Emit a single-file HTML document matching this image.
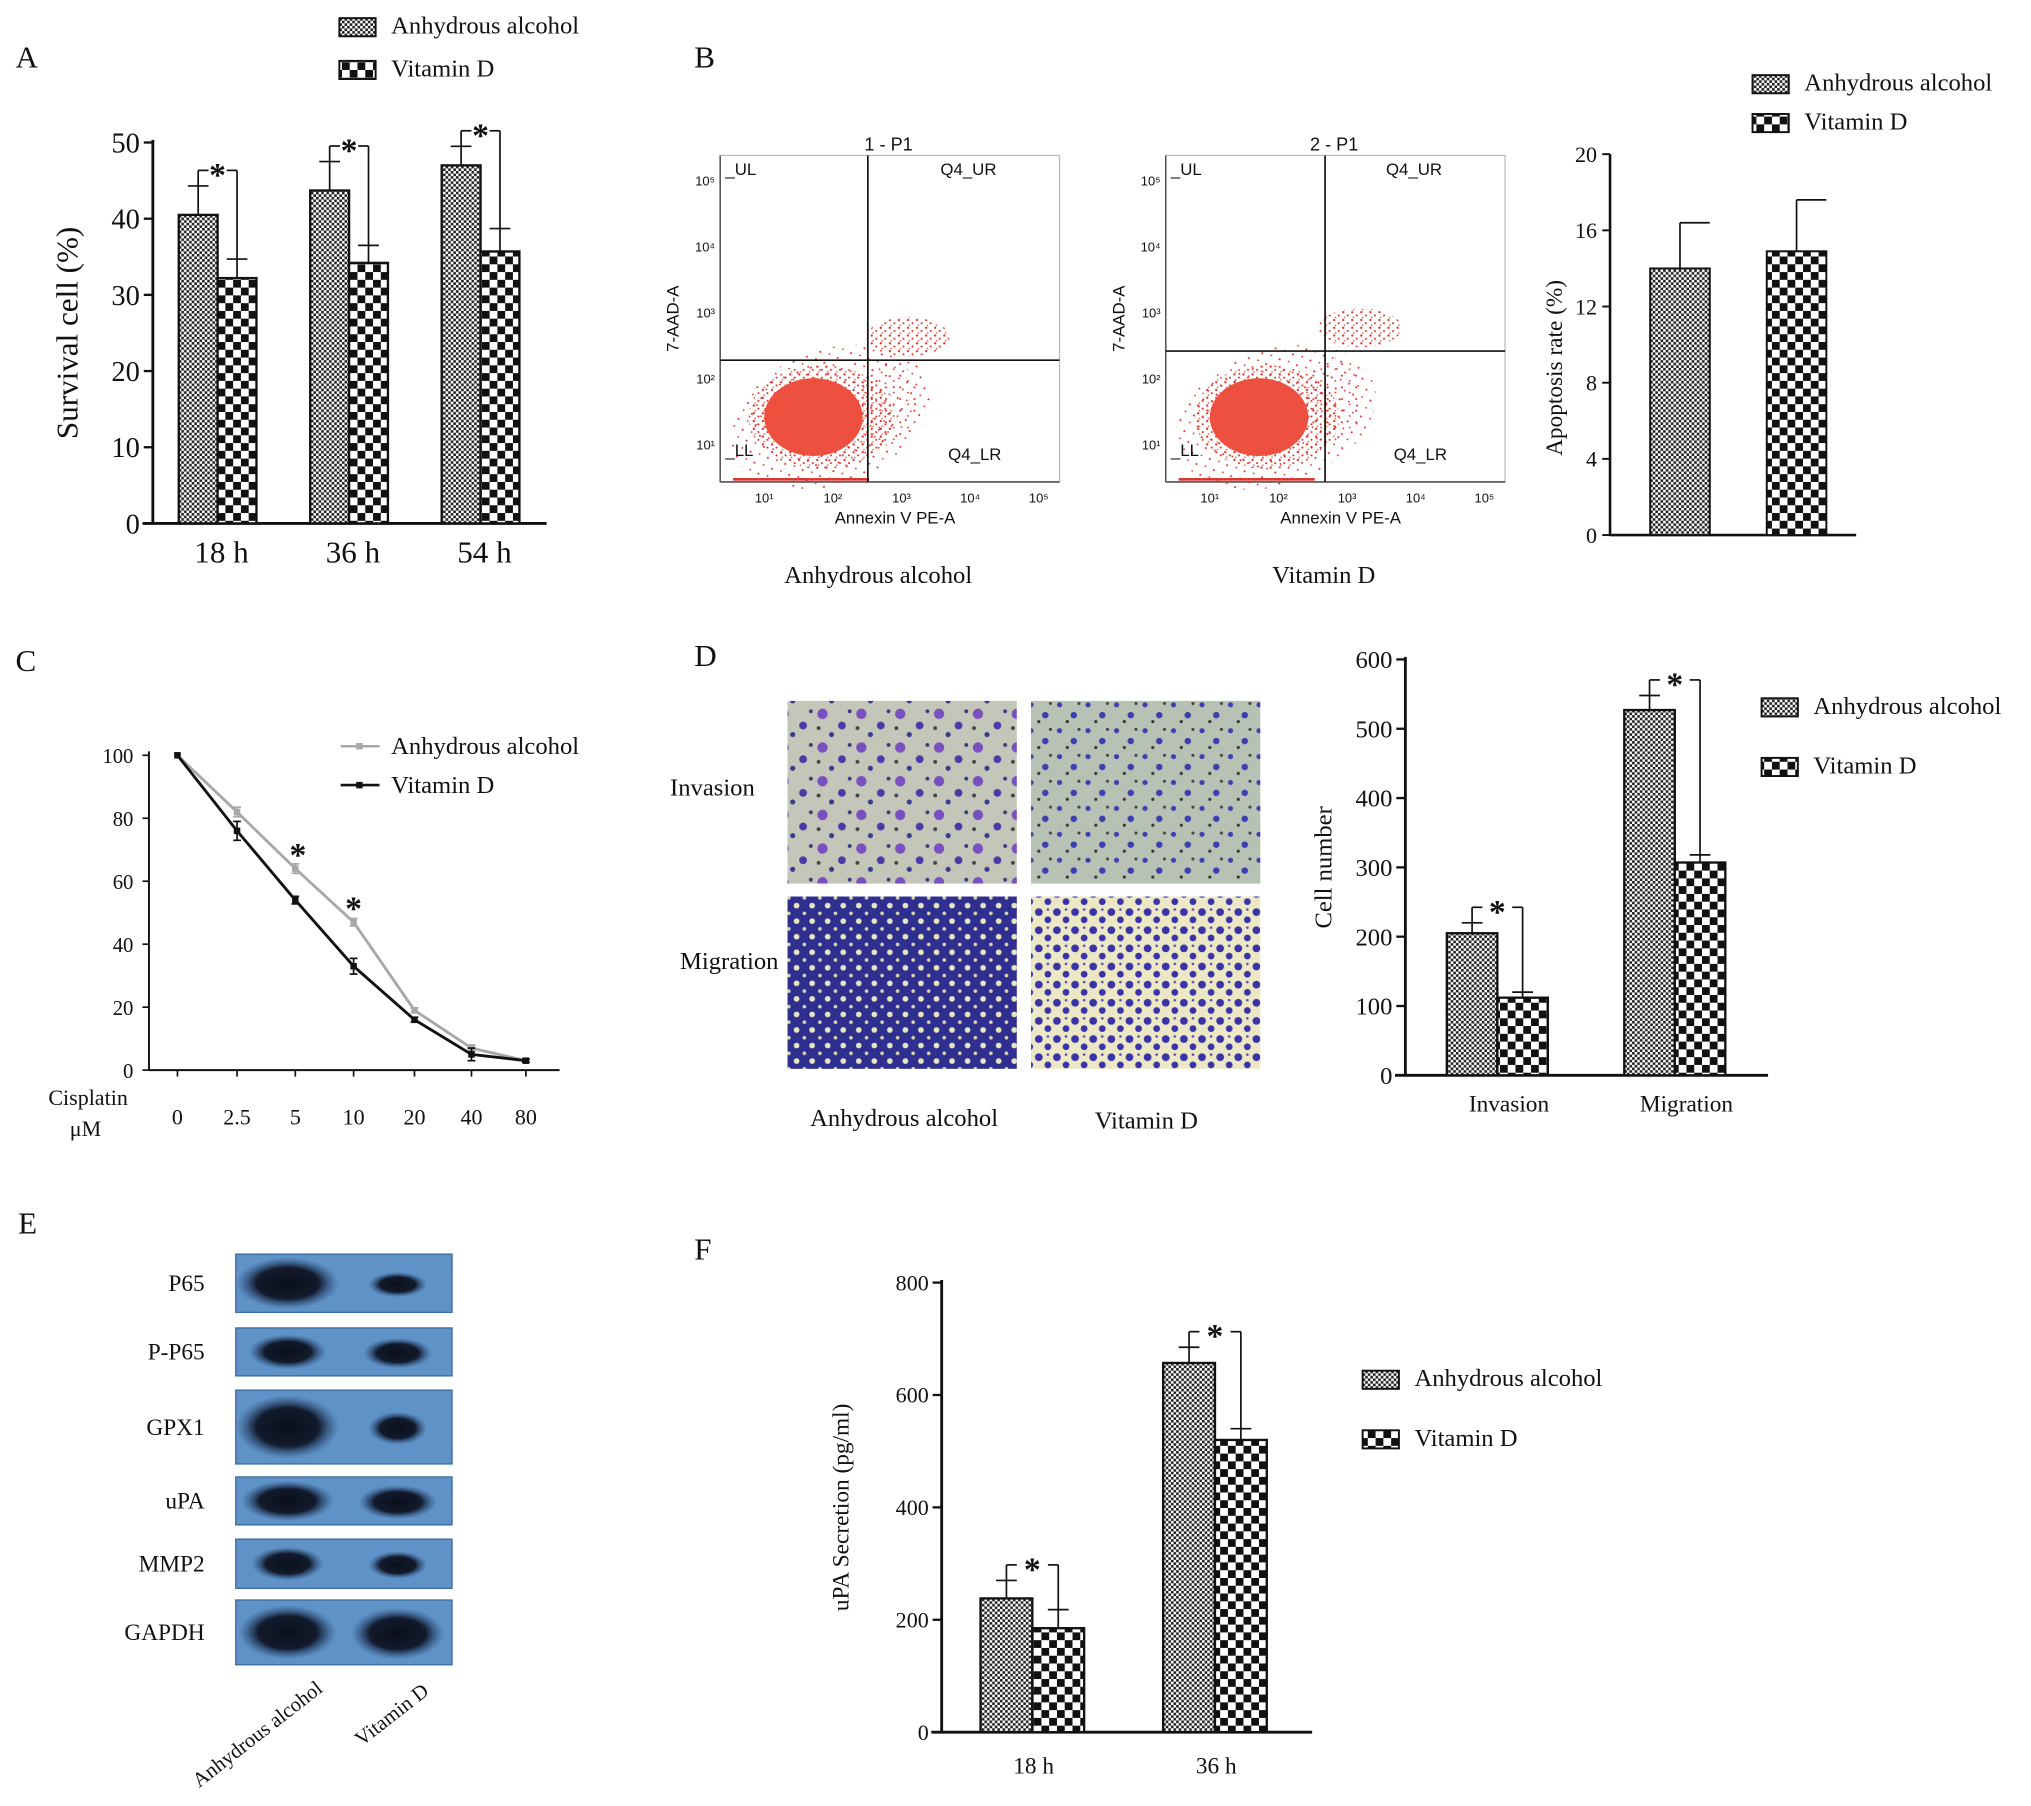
<!DOCTYPE html>
<html><head><meta charset="utf-8"><style>
html,body{margin:0;padding:0;background:#fff}
svg{display:block}
text{font-family:"Liberation Serif",serif;fill:#111}
.s{font-family:"Liberation Sans",sans-serif}
</style></head><body>
<svg id="fig" width="2031" height="1806" viewBox="0 0 1568 1394" preserveAspectRatio="none" xmlns="http://www.w3.org/2000/svg">
<defs>
<pattern id="fine" width="4" height="4" patternUnits="userSpaceOnUse"><rect width="4" height="4" fill="#fff"/><rect width="2" height="2" fill="#222"/><rect x="2" y="2" width="2" height="2" fill="#222"/></pattern>
<pattern id="coarse" width="12" height="12" patternUnits="userSpaceOnUse"><rect width="12" height="12" fill="#fff"/><rect width="6" height="6" fill="#111"/><rect x="6" y="6" width="6" height="6" fill="#111"/></pattern>
<pattern id="dots" width="7" height="6" patternUnits="userSpaceOnUse"><circle cx="1" cy="1" r="0.9" fill="#e0302a"/><circle cx="4.5" cy="3.5" r="0.8" fill="#e0302a"/><circle cx="2" cy="5" r="0.6" fill="#e85040"/></pattern>
<pattern id="dots2" width="11" height="9" patternUnits="userSpaceOnUse"><circle cx="2" cy="2" r="0.8" fill="#e0302a"/><circle cx="8" cy="6" r="0.7" fill="#e0302a"/></pattern>
<pattern id="inv1" width="30" height="26" patternUnits="userSpaceOnUse"><rect width="30" height="26" fill="#c3c6b8"/><circle cx="5" cy="5" r="4" fill="#7a4fc0"/><circle cx="20" cy="14" r="3" fill="#4a3aa8"/><circle cx="12" cy="21" r="2" fill="#3a3a90"/><circle cx="26" cy="3" r="1.5" fill="#3a3a80"/><circle cx="2" cy="16" r="1.5" fill="#444"/></pattern>
<pattern id="inv2" width="22" height="20" patternUnits="userSpaceOnUse"><rect width="22" height="20" fill="#b8c2b4"/><circle cx="4" cy="4" r="2" fill="#3d3fb0"/><circle cx="15" cy="12" r="2.5" fill="#3d3fb0"/><circle cx="10" cy="17" r="1.2" fill="#333"/><circle cx="19" cy="3" r="1.2" fill="#444"/></pattern>
<pattern id="mig1" width="12" height="12" patternUnits="userSpaceOnUse"><rect width="12" height="12" fill="#2e2f8f"/><circle cx="3" cy="3" r="2.2" fill="#e8e6c0"/><circle cx="9" cy="9" r="1.4" fill="#d8d6b0"/></pattern>
<pattern id="mig2" width="14" height="14" patternUnits="userSpaceOnUse"><rect width="14" height="14" fill="#ece8c6"/><circle cx="4" cy="4" r="3" fill="#3a33a8"/><circle cx="11" cy="10" r="2.6" fill="#3a33a8"/><circle cx="11" cy="2" r="1" fill="#5a4ab0"/></pattern>
<radialGradient id="band"><stop offset="0" stop-color="#0a0f1a"/><stop offset="0.6" stop-color="#121a2c"/><stop offset="1" stop-color="#2a4a78" stop-opacity="0"/></radialGradient>
</defs>
<g id="root"></g>
</svg>
<script>
// ---------- Data ----------
const aCats = ["18 h","36 h","54 h"];
const aAlc = [40.5, 43.7, 47.0];
const aAlcErr = [3.8, 3.8, 2.5];
const aVit = [32.2, 34.2, 35.7];
const aVitErr = [2.5, 2.3, 3.0];
const aTicks = [0,10,20,30,40,50];

const bCats = ["Anhydrous alcohol","Vitamin D"];
const bVals = [14.0, 14.9];
const bErr = [2.4, 2.7];
const bTicks = [0,4,8,12,16,20];

const cCats = ["0","2.5","5","10","20","40","80"];
const cAlc = [100, 82, 64, 47, 19, 7, 3];
const cAlcErr = [0, 1.5, 1.5, 1.2, 0.8, 1, 0.5];
const cVit = [100, 76, 54, 33, 16, 5, 3];
const cVitErr = [0, 3, 1.2, 2.5, 0.8, 2, 0.5];
const cTicks = [0,20,40,60,80,100];

const dCats = ["Invasion","Migration"];
const dAlc = [205, 527];
const dAlcErr = [15, 21];
const dVit = [112, 307];
const dVitErr = [8, 11];
const dTicks = [0,100,200,300,400,500,600];

const fCats = ["18 h","36 h"];
const fAlc = [238, 657];
const fAlcErr = [32, 28];
const fVit = [185, 520];
const fVitErr = [33, 20];
const fTicks = [0,200,400,600,800];

const blotRows = ["P65","P-P65","GPX1","uPA","MMP2","GAPDH"];
const blotAlc = [1.0, 0.75, 1.0, 0.9, 0.7, 0.95];
const blotVit = [0.45, 0.7, 0.5, 0.8, 0.6, 0.95];

// ---------- helpers ----------
const NS="http://www.w3.org/2000/svg";
const root=document.getElementById('root');
function el(tag,attrs,parent,txt){const e=document.createElementNS(NS,tag);for(const k in attrs)e.setAttribute(k,attrs[k]);if(txt!==undefined)e.textContent=txt;(parent||root).appendChild(e);return e;}
function grp(name){const g=el('g',{});return g;}
function txt(g,x,y,s,size,anchor,extra){const t=el('text',Object.assign({x:x,y:y,'font-size':size,'text-anchor':anchor||'start'},extra||{}),g,s);return t;}
function line(g,x1,y1,x2,y2,w,c){return el('line',{x1,y1,x2,y2,stroke:c||'#111','stroke-width':w||1.5},g);}

function legend(g,x,y,dy,size,labels){
  const fills=['url(#fine)','url(#coarse)'];
  labels.forEach((l,i)=>{
    const r=el('rect',{x:x,y:y+i*dy-12,width:28,height:14,fill:fills[i],stroke:'#111','stroke-width':1.5},g);
    
    
    const t=txt(g,x+40,y+i*dy,l,size);
    
    
  });
}

function sig(g,x1,top1,x2,top2,ytop){
  line(g,x1-8,top1,x1+8,top1,1.3);
  line(g,x1,top1,x1,ytop,1.3);line(g,x1,ytop,x1+8,ytop,1.3);
  line(g,x2-8,ytop,x2,ytop,1.3);line(g,x2,ytop,x2,top2,1.3);
  line(g,x2-8,top2,x2+8,top2,1.3);
  const s=txt(g,(x1+x2)/2,ytop+12,'*',26,'middle',{'font-weight':'bold'});
  
  
}

function groupChart(o){
  const g=grp(o.name);
  const ys=v=>o.y0-(v-o.tmin)/(o.tmax-o.tmin)*(o.y0-o.y1);
  line(g,o.ax,o.y1-2,o.ax,o.y0,2.2);line(g,o.ax-8,o.y0,o.axEnd,o.y0,2.2);
  o.ticks.forEach(t=>{line(g,o.ax-7,ys(t),o.ax,ys(t),1.8);const tl=txt(g,o.ax-10,ys(t)+o.tsize*0.35,String(t),o.tsize,'end');});
  o.cats.forEach((c,i)=>{
    const x0=o.start+i*o.step;
    [[o.s1,o.e1,'url(#fine)'],[o.s2,o.e2,'url(#coarse)']].forEach((s,j)=>{
      const v=s[0][i],e=s[1][i],bx=x0+j*o.bw;
      const r=el('rect',{x:bx,y:ys(v),width:o.bw,height:o.y0-ys(v),fill:s[2],stroke:'#111','stroke-width':1.8},g);
      
      
      line(g,bx+o.bw/2,ys(v),bx+o.bw/2,ys(v+e),1.3);
    });
    const t1=ys(o.s1[i]+o.e1[i]),t2=ys(o.s2[i]+o.e2[i]);
    sig(g,x0+o.bw/2,t1,x0+1.5*o.bw,t2,Math.min(t1,t2)-o.sigGap);
    const xl=txt(g,x0+o.bw+(o.labOff||0),o.y0+o.lsize+o.lpad,c,o.lsize,'middle');
    
  });
  const yt=txt(g,0,0,o.ytitle,o.ysize,'middle',{transform:`translate(${o.ytx},${(o.y0+o.y1)/2}) rotate(-90)`});
  
  return g;
}

// ---------- Panel labels ----------
[['A',12,52],['B',536,52],['C',12,518],['D',536,514],['E',14,952],['F',536,972]].forEach(p=>{const t=txt(root,p[1],p[2],p[0],24);});

// ---------- Panel A ----------
const gA=groupChart({name:'panel-a-chart',cats:aCats,s1:aAlc,e1:aAlcErr,s2:aVit,e2:aVitErr,ticks:aTicks,tmin:0,tmax:50,
 ax:118,axEnd:422,y0:404,y1:110,start:138,step:101.5,bw:30,sigGap:12,tsize:22,lsize:24,lpad:6,labOff:3,ytitle:'Survival cell (%)',ysize:24,ytx:60});
legend(gA,262,26,33,19,['Anhydrous alcohol','Vitamin D']);

// ---------- Panel B flow plots ----------
function flow(name,x0,vx,hy,title,label,urx){
  const g=grp(name);
  el('rect',{x:x0,y:120,width:262,height:252,fill:'none',stroke:'#bbb','stroke-width':1},g);
  line(g,x0,120,x0,372,1.2,'#555');line(g,x0,372,x0+262,372,1.2,'#555');
  const c=el('ellipse',{cx:x0+85,cy:322,rx:80,ry:52,fill:'url(#dots2)',transform:`rotate(-20 ${x0+85} 322)`},g);
  
  el('ellipse',{cx:x0+78,cy:322,rx:56,ry:40,fill:'url(#dots)'},g);
  el('ellipse',{cx:x0+72,cy:322,rx:38,ry:30,fill:'#ee5040'},g);
  el('ellipse',{cx:x0+130,cy:310,rx:22,ry:34,fill:'url(#dots2)'},g);
  el('ellipse',{cx:x0+urx,cy:hy-18,rx:32,ry:15,fill:'url(#dots)'},g);
  el('rect',{x:x0+10,y:369,width:105,height:2,fill:'#e0302a'},g);
  line(g,vx,120,vx,372,1.3);line(g,x0,hy,x0+262,hy,1.3);
  txt(g,x0+130,116,title,14,'middle',{class:'s'});
  txt(g,x0+4,135,'_UL',13,'start',{class:'s'});txt(g,x0+170,135,'Q4_UR',13,'start',{class:'s'});
  txt(g,x0+4,352,'_LL',13,'start',{class:'s'});txt(g,x0+176,355,'Q4_LR',13,'start',{class:'s'});
  ['10¹','10²','10³','10⁴','10⁵'].forEach((s,i)=>{txt(g,x0+34+i*53,388,s,10,'middle',{class:'s'});txt(g,x0-4,347-i*51,s,10,'end',{class:'s'});});
  txt(g,x0+135,404,'Annexin V PE-A',13,'middle',{class:'s'});
  txt(g,0,0,'7-AAD-A',13,'middle',{class:'s',transform:`translate(${x0-32},246) rotate(-90)`});
  const l=txt(g,x0+122,450,label,19,'middle');
}
flow('flow-plot-alcohol',556,670,278,'1 - P1','Anhydrous alcohol',145);
flow('flow-plot-vitamin-d',900,1023,271,'2 - P1','Vitamin D',150);

// Panel B bar chart
(function(){
  const g=grp('panel-b-chart');
  const y0=413,y1=119,ys=v=>y0-v/20*(y0-y1),ax=1243;
  line(g,ax,y1,ax,y0,2);line(g,ax,y0,1433,y0,2);
  bTicks.forEach(t=>{line(g,ax-6,ys(t),ax,ys(t),1.5);txt(g,ax-10,ys(t)+6,String(t),17,'end');});
  const fills=['url(#fine)','url(#coarse)'];
  bCats.forEach((c,i)=>{
    const bx=1274+i*90;
    const r=el('rect',{x:bx,y:ys(bVals[i]),width:46,height:y0-ys(bVals[i]),fill:fills[i],stroke:'#111','stroke-width':1.5},g);
    
    line(g,bx+23,ys(bVals[i]),bx+23,ys(bVals[i]+bErr[i]),1.3);line(g,bx+23,ys(bVals[i]+bErr[i]),bx+46,ys(bVals[i]+bErr[i]),1.3);
  });
  txt(g,0,0,'Apoptosis rate (%)',18,'middle',{transform:`translate(1206,284) rotate(-90)`});
  legend(g,1353,70,30,19,['Anhydrous alcohol','Vitamin D']);
})();

// ---------- Panel C ----------
(function(){
  const g=grp('panel-c-chart');
  const y0=826,y1=583,ys=v=>y0-v/100*(y0-y1),ax=115;
  const xs=[137,183,228,273,320,364,406];
  const xi=i=>xs[i];
  line(g,ax,y1-3,ax,y0,1.5);line(g,ax,y0,432,y0,1.5);
  cTicks.forEach(t=>{line(g,ax-5,ys(t),ax,ys(t),1.3);txt(g,ax-12,ys(t)+6,String(t),16,'end');});
  cCats.forEach((c,i)=>{line(g,xi(i),y0,xi(i),y0+5,1.3);txt(g,xi(i),y0+42,c,17,'middle');});
  txt(g,68,853,'Cisplatin',17,'middle');txt(g,66,877,'μM',17,'middle');
  [[cAlc,cAlcErr,'#a8a8a8','line-alcohol'],[cVit,cVitErr,'#111','line-vitamin-d']].forEach(s=>{
    const p=el('polyline',{points:s[0].map((v,i)=>xi(i)+','+ys(v)).join(' '),fill:'none',stroke:s[2],'stroke-width':2.2},g);
    
    s[0].forEach((v,i)=>{el('rect',{x:xi(i)-2.5,y:ys(v)-2.5,width:5,height:5,fill:s[2]},g);
      if(s[1][i]>0){line(g,xi(i),ys(v-s[1][i]),xi(i),ys(v+s[1][i]),1.3,s[2]);line(g,xi(i)-3,ys(v+s[1][i]),xi(i)+3,ys(v+s[1][i]),1.3,s[2]);line(g,xi(i)-3,ys(v-s[1][i]),xi(i)+3,ys(v-s[1][i]),1.3,s[2]);}});
  });
  txt(g,xi(2)+2,ys(cAlc[2])-2,'*',26,'middle',{'font-weight':'bold'});
  txt(g,xi(3),ys(cAlc[3])-2,'*',26,'middle',{'font-weight':'bold'});
  line(g,263,576,293,576,2,'#a8a8a8');el('rect',{x:275,y:573.5,width:5,height:5,fill:'#a8a8a8'},g);
  line(g,263,606,293,606,2,'#111');el('rect',{x:275,y:603.5,width:5,height:5,fill:'#111'},g);
  txt(g,302,582,'Anhydrous alcohol',19);txt(g,302,612,'Vitamin D',19);
})();

// ---------- Panel D images ----------
(function(){
  const g=grp('panel-d-images');
  [[608,541,'inv1'],[796,541,'inv2'],[608,692,'mig1'],[796,692,'mig2']].forEach((r,i)=>{
    const e=el('rect',{x:r[0],y:r[1],width:177,height:i<2?141:133,fill:`url(#${r[2]})`},g);
    
  });
  txt(g,550,614,'Invasion',19,'middle');txt(g,563,748,'Migration',19,'middle');
  txt(g,698,869,'Anhydrous alcohol',19,'middle');txt(g,885,871,'Vitamin D',19,'middle');
})();
const gD=groupChart({name:'panel-d-chart',cats:dCats,s1:dAlc,e1:dAlcErr,s2:dVit,e2:dVitErr,ticks:dTicks,tmin:0,tmax:600,
 ax:1085,axEnd:1365,y0:830,y1:509,start:1117,step:137,bw:39,sigGap:12,tsize:19,lsize:18,lpad:10,labOff:9,ytitle:'Cell number',ysize:19,ytx:1028});
legend(gD,1360,551,46,19,['Anhydrous alcohol','Vitamin D']);

// ---------- Panel E blots ----------
(function(){
  const g=grp('panel-e-blots');
  const rows=[[968,1013],[1025,1062],[1073,1130],[1140,1177],[1188,1226],[1235,1285]];
  blotRows.forEach((n,i)=>{
    const [a,b]=rows[i],h=b-a,cy=(a+b)/2;
    const r=el('rect',{x:182,y:a,width:167,height:h,fill:'#5f93c8',stroke:'#3a6aa0','stroke-width':1},g);
    
    el('ellipse',{cx:222,cy:cy,rx:40*Math.max(0.6,blotAlc[i]),ry:h*0.38*blotAlc[i]+3,fill:'url(#band)'},g);
    el('ellipse',{cx:307,cy:cy+1,rx:38*Math.max(0.6,blotVit[i]),ry:h*0.38*blotVit[i]+2,fill:'url(#band)'},g);
    txt(g,158,cy+6,n,18,'end');
  });
  txt(g,0,0,'Anhydrous alcohol',16,'end',{transform:'translate(250,1305) rotate(-38)'});
  txt(g,0,0,'Vitamin D',16,'end',{transform:'translate(332,1307) rotate(-38)'});
})();

// ---------- Panel F ----------
const gF=groupChart({name:'panel-f-chart',cats:fCats,s1:fAlc,e1:fAlcErr,s2:fVit,e2:fVitErr,ticks:fTicks,tmin:0,tmax:800,
 ax:727,axEnd:1013,y0:1337,y1:990,start:757,step:141,bw:40,sigGap:12,tsize:17,lsize:18,lpad:14,labOff:1,ytitle:'uPA Secretion (pg/ml)',ysize:18,ytx:655});
legend(gF,1052,1070,46,19,['Anhydrous alcohol','Vitamin D']);
</script>
</body></html>
